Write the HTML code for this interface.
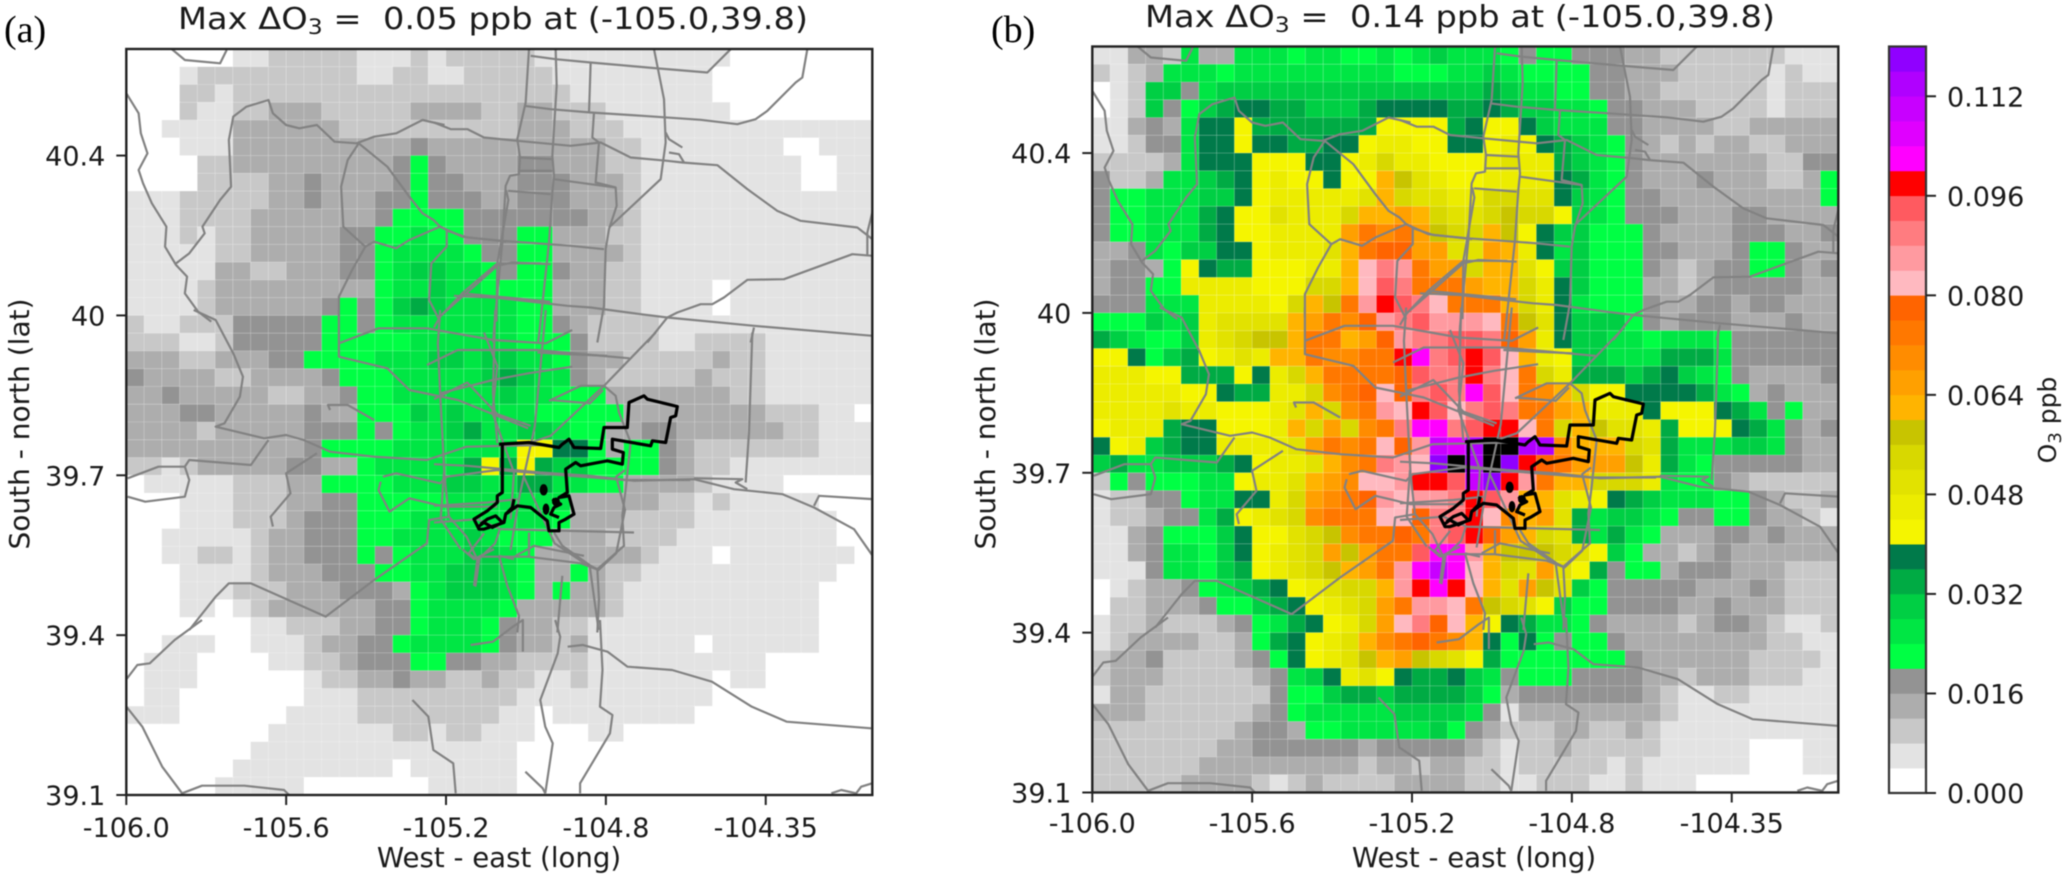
<!DOCTYPE html>
<html lang="en">
<head>
<meta charset="utf-8">
<title>Max delta O3 maps</title>
<style>
html,body{margin:0;padding:0;background:#fff}
svg{display:block;filter:blur(0.4px)}
text{font-family:"DejaVu Sans","Liberation Sans",sans-serif;fill:#1a1a1a;white-space:pre}
.road polyline{fill:none;stroke:#828282;stroke-width:2.2;stroke-linejoin:round;vector-effect:non-scaling-stroke}
.city polyline{fill:none;stroke:#000;stroke-width:3.2;stroke-linejoin:round;vector-effect:non-scaling-stroke}
</style>
</head>
<body>
<svg id="chart" xmlns="http://www.w3.org/2000/svg" width="2067" height="878" viewBox="0 0 2067 878">
<defs>
<clipPath id="panel-clip"><rect x="0" y="0" width="746" height="746"/></clipPath>
<g id="map-overlay">
<g class="road" transform="translate(-126.3,-49) scale(.44014,.33333)">
<polyline points="287,280 315,340 320,400 335,460 315,510 325,550 345,610 378,680 375,740 400,795 425,830 420,880 450,935 480,965"/>
<polyline points="400,790 430,760 465,700 460,680 500,600 525,560 520,420 530,350 560,320 610,300 620,340 650,375 680,385 720,375 760,425 810,430 850,410 900,400 960,360 1010,375"/>
<polyline points="815,430 790,480 775,560 780,680 830,740 800,810 770,890 770,960"/>
<polyline points="815,430 880,500 930,590 960,640 985,660 1000,680 930,720 900,745 850,725 830,740"/>
<polyline points="1000,680 1015,690 1015,740 980,790 975,900 1000,965"/>
<polyline points="1000,680 1050,710 1150,725"/>
<polyline points="1000,950 1050,880 1130,790 1230,790"/>
<polyline points="1050,880 1250,905"/>
<polyline points="1130,790 1155,600 1150,570"/>
<polyline points="1130,790 1128,965"/>
<polyline points="390,147 420,180 500,190 515,150"/>
</g>
<g class="road" transform="translate(-126.3,261) scale(.44014,.33333)">
<polyline points="440,0 490,30 530,130 552,200 545,260 510,340 490,350 600,385 650,375 690,390 750,425 850,440 970,450 1060,410 1240,405"/>
<polyline points="770,100 860,55 970,55 1120,90 1240,100 1300,60"/>
<polyline points="770,0 770,140 880,175 930,240 1040,270 1200,355"/>
<polyline points="1000,0 995,100 1000,250 1010,500 1020,620"/>
<polyline points="970,165 1040,120 1220,120 1430,145"/>
<polyline points="1130,400 1120,250 1125,0"/>
<polyline points="1240,0 1215,350 1180,560 1160,720"/>
<polyline points="290,505 360,470 420,470 430,450 570,465 610,390"/>
<polyline points="290,560 330,575 420,560 430,510 420,470"/>
<polyline points="870,500 900,490 1000,520 1015,500 1130,480 1420,510 1568,510"/>
<polyline points="750,300 745,285 790,285 850,330"/>
<polyline points="620,650 615,620 660,550 650,490 720,430"/>
<polyline points="865,515 860,540 885,605 930,565 1010,590 1040,590 1130,590"/>
<polyline points="1100,670 1065,730 1085,750 1125,700 1135,660"/>
<polyline points="1080,830 1090,740 1200,740 1320,760 1360,780 1400,730 1420,600 1400,500 1420,480"/>
<polyline points="850,810 970,700 975,630 1020,620 1060,680 1085,750"/>
<polyline points="1190,500 1260,700 1340,770 1360,960"/>
<polyline points="430,960 490,860 520,820 570,820 740,920 850,810"/>
<polyline points="1000,250 1060,230 1120,210 1200,190 1300,170"/>
<polyline points="1250,270 1340,280 1370,240"/>
</g>
<g class="road" transform="translate(-26.3,571) scale(.4975,.33333)">
<polyline points="205,0 150,60 100,130 75,135 52,180"/>
<polyline points="52,258 85,320 125,440 165,520 205,497 290,497 370,510 380,525"/>
<polyline points="628,240 660,290 670,390 710,430 715,520"/>
<polyline points="745,75 790,65 830,20 850,0 850,95"/>
<polyline points="915,0 925,50 920,100 885,240 895,320 910,370 895,520"/>
<polyline points="855,455 890,505 895,520"/>
<polyline points="1005,0 1010,150 1005,260 1030,285 1025,340 965,490 965,520"/>
<polyline points="940,80 970,75 1020,95 1060,140 1150,150 1230,185 1310,260 1380,305 1550,325"/>
<polyline points="1470,520 1490,510 1520,520 1530,500 1552,490"/>
</g>
<g class="road" transform="translate(307.7,-6.5) scale(.33333)">
<polyline points="285,20 275,180 250,290 258,345 255,395 228,400 215,430 205,600 180,860 178,900"/>
<polyline points="365,20 368,130 355,340 360,400 355,450 345,600 315,880 312,900"/>
<polyline points="270,190 350,200 470,210 625,220 800,232 910,245 965,230 1000,205 1085,120 1105,105 1120,20"/>
<polyline points="290,40 365,50 470,60 640,75 820,90 890,20"/>
<polyline points="470,60 465,210"/>
<polyline points="480,210 475,285 495,300 485,420 545,435 548,490 525,560 515,620 510,790 490,900"/>
<polyline points="0,240 50,260 100,260 150,285 250,295 410,310 500,300 540,320 590,345 700,355 745,360 850,368 940,440 1030,505 1100,535 1270,555 1315,590"/>
<polyline points="660,20 690,170 695,300 680,410 525,555"/>
<polyline points="695,270 705,290 745,315"/>
<polyline points="705,330 735,335 750,360"/>
<polyline points="222,445 350,455"/>
<polyline points="258,345 355,350"/>
<polyline points="255,385 355,385"/>
<polyline points="360,410 470,425 545,435"/>
<polyline points="40,565 100,585 205,595 345,605 410,610 510,620"/>
<polyline points="0,855 20,820 190,670 235,660 350,665"/>
<polyline points="60,760 180,765 400,790 470,795 620,815 700,825 960,850 1316,880"/>
<polyline points="640,900 700,825 730,810 800,785 835,785 870,765 940,712 1050,710 1255,635 1316,640"/>
<polyline points="1316,505 1300,570 1300,640"/>
<polyline points="960,855 950,900"/>
</g>
<g class="road" transform="translate(307.7,283.5) scale(.33333)">
<polyline points="955,0 945,300 935,450"/>
<polyline points="665,0 510,160 350,310 290,330 270,330"/>
<polyline points="510,160 545,190 555,240 590,330 575,470 565,550 570,640 490,710"/>
<polyline points="310,60 400,65 520,70"/>
<polyline points="320,420 470,430 600,445 780,440 900,470 1045,485 1140,525 1260,590 1316,670"/>
<polyline points="780,437 925,440 905,450 940,470"/>
<polyline points="1140,520 1155,490 1316,500"/>
<polyline points="360,600 385,640 470,700 490,710 495,800 490,900"/>
<polyline points="245,670 300,640 450,670"/>
<polyline points="285,600 285,670"/>
<polyline points="195,670 240,680"/>
<polyline points="195,670 220,760 255,850 250,900"/>
<polyline points="130,680 120,760"/>
<polyline points="85,650 120,680 180,650"/>
<polyline points="385,730 370,900"/>
<polyline points="150,0 190,100 175,240 240,420 230,560"/>
<polyline points="0,200 100,150 190,245 290,280"/>
<polyline points="0,395 100,400 320,420"/>
<polyline points="0,520 160,510 250,500"/>
<polyline points="0,570 130,560 200,590 600,600"/>
<polyline points="345,205 440,160 510,160"/>
<polyline points="30,420 20,560 80,650"/>
</g>
<g class="city" transform="translate(307.7,283.5) scale(.33333)">
<polyline points="195,335 285,330 375,345 385,335 405,320 420,345 500,348 510,285 580,285 585,210 630,190 640,200 730,222 725,250 710,255 695,330 655,325 650,340 535,320 535,350 568,360 565,395 520,385 440,400 425,390 395,410 400,480 375,495 405,490 420,545 395,560 375,570 375,595 345,595 340,565 290,525 250,520 215,545 210,570 150,590 135,590 120,560 160,535 190,510 190,490 205,480 205,335 195,335"/>
<polyline points="240,500 235,525 215,545"/>
<polyline points="130,585 150,570 175,585 205,570 185,550 160,560 140,575"/>
<polyline points="355,500 380,515 360,525 350,545 375,555"/>
<ellipse cx="329" cy="472" rx="12" ry="17" fill="#000"/>
<ellipse cx="366" cy="508" rx="12" ry="13" fill="#000"/>
<ellipse cx="336" cy="530" rx="10" ry="17" fill="#000"/>
</g>
</g>
</defs>

<text x="4" y="42" style="font-family:'Liberation Serif',serif;font-size:38px;fill:#000">(a)</text>
<text x="991" y="42" style="font-family:'Liberation Serif',serif;font-size:38px;fill:#000">(b)</text>

<g id="panel-a" transform="translate(126.3,49)"></g>
<g id="panel-b" transform="translate(1092.3,46.5)"></g>
<g id="colorbar"></g>

<text x="178" y="29" font-size="30" textLength="630" lengthAdjust="spacingAndGlyphs">Max ΔO<tspan font-size="21" dy="5">3</tspan><tspan dy="-5"> =  0.05 ppb at (-105.0,39.8)</tspan></text>
<text x="1145" y="27" font-size="30" textLength="630" lengthAdjust="spacingAndGlyphs">Max ΔO<tspan font-size="21" dy="5">3</tspan><tspan dy="-5"> =  0.14 ppb at (-105.0,39.8)</tspan></text>
<text x="499" y="867" font-size="27.6" text-anchor="middle">West - east (long)</text>
<text x="1474" y="867" font-size="27.6" text-anchor="middle">West - east (long)</text>
<text transform="translate(29,424) rotate(-90)" font-size="28" text-anchor="middle">South - north (lat)</text>
<text transform="translate(995,424) rotate(-90)" font-size="28" text-anchor="middle">South - north (lat)</text>
<text transform="translate(2056,420) rotate(-90)" font-size="25" text-anchor="middle">O<tspan font-size="18" dy="5">3</tspan><tspan dy="-5"> ppb</tspan></text>

<script>
const xTickLabels = ["-106.0","-105.6","-105.2","-104.8","-104.35"];
const xTickCells = [0,9,18,27,36];
const yTickLabels = ["40.4","40","39.7","39.4","39.1"];
const yTickCells = [6,15,24,33,42];
const colorbarTickLabels = ["0.000","0.016","0.032","0.048","0.064","0.080","0.096","0.112"];
const colorbarTickValues = [0,0.016,0.032,0.048,0.064,0.08,0.096,0.112];
const levelColors = ["#ffffff","#e3e3e3","#c8c8c8","#adadad","#939393","#00ff44","#00e644","#00cf44","#00ab44","#007a4a","#f5f500","#ecec00","#e2e200","#d8d800","#c8c400","#ffb400","#ffa000","#ff8c00","#ff7800","#ff6400","#ffb9c0","#ff9aa0","#ff7c80","#ff5a60","#ff0000","#ff00ff","#e000ff","#c800ff","#b000ff","#9000ff","#000000"];
const levelStep = 0.004;
const panelALevels = [
[0,0,0,0,0,0,1,1,2,2,2,2,2,1,1,1,2,1,2,2,2,2,2,1,1,1,1,1,1,1,1,1,1,1,0,0,0,0,0,0,0,0],
[0,0,0,1,2,2,2,2,2,2,2,2,2,1,1,2,2,1,1,2,2,2,2,2,1,1,1,1,1,1,1,1,1,0,0,0,0,0,0,0,0,0],
[0,0,0,2,2,1,2,2,2,2,2,2,2,2,2,2,2,2,2,2,2,2,2,2,2,1,1,1,1,1,1,1,1,0,0,0,0,0,0,0,0,0],
[0,0,0,2,1,1,2,2,3,3,3,2,2,2,2,2,3,3,3,3,2,2,3,3,2,2,2,1,1,1,1,1,1,1,0,0,0,0,0,0,0,0],
[0,0,1,1,1,1,3,3,3,3,3,3,2,2,2,2,2,2,2,2,2,2,3,3,3,2,2,2,1,1,1,1,1,1,1,1,1,1,1,1,1,1],
[0,0,0,1,1,1,3,3,3,3,3,3,3,3,3,3,4,3,3,3,3,3,3,3,3,3,3,2,2,1,1,1,1,1,1,1,1,0,0,1,1,1],
[0,0,0,0,2,2,3,3,3,3,3,3,3,3,3,4,5,4,3,3,3,3,4,4,3,3,3,2,2,1,1,1,1,1,1,1,1,1,0,0,1,1],
[0,0,0,0,2,2,2,2,3,3,4,3,3,3,3,4,5,4,4,3,3,3,4,4,4,3,3,3,2,1,1,1,1,1,1,1,1,1,0,0,1,1],
[1,1,1,2,2,2,2,2,3,3,4,3,3,3,4,4,5,4,4,4,3,3,4,4,4,3,3,3,2,1,1,1,1,1,1,1,1,1,1,1,1,1],
[1,1,1,2,2,2,2,3,3,3,3,3,3,3,4,5,5,5,5,4,4,4,4,4,4,4,3,3,2,1,1,1,1,1,1,1,1,1,1,1,1,1],
[1,1,1,2,1,2,2,3,3,3,3,3,4,4,5,5,6,5,5,4,4,4,5,5,3,3,3,2,2,1,1,1,1,1,1,1,1,1,1,1,1,1],
[1,1,1,1,1,2,2,3,3,3,3,3,4,4,5,6,6,6,6,5,4,4,5,5,3,3,3,3,2,1,1,1,1,1,1,1,1,1,1,1,1,1],
[1,1,1,1,1,3,3,2,2,3,3,3,4,4,5,6,7,7,6,6,5,4,5,5,4,3,3,2,2,1,1,1,1,1,1,1,1,1,1,1,1,1],
[1,1,1,1,2,3,3,3,3,3,3,3,3,3,5,6,6,7,6,6,5,5,5,5,3,3,3,2,2,1,1,1,1,0,1,1,1,1,1,1,1,1],
[1,1,1,1,2,3,3,3,3,3,3,4,5,4,5,7,8,7,6,6,6,6,5,5,3,3,3,2,2,1,1,1,1,0,1,1,1,1,1,1,1,1],
[2,1,1,2,2,2,4,4,4,4,4,5,5,4,5,6,6,6,6,6,6,6,5,5,4,3,2,2,2,2,1,1,1,1,1,1,1,1,1,1,1,1],
[2,2,2,1,1,2,4,4,4,4,4,5,5,5,5,5,6,6,6,6,6,6,5,5,5,4,2,2,2,2,1,1,2,2,2,2,1,1,1,1,1,1],
[3,3,3,2,2,3,3,3,4,4,5,5,5,5,6,6,6,7,7,6,7,7,6,6,5,4,3,3,2,2,2,2,2,3,2,2,1,1,1,1,1,1],
[4,3,3,3,3,2,2,3,3,3,3,4,5,5,5,6,6,6,6,6,7,8,7,6,6,4,3,2,2,2,2,2,3,2,2,2,1,1,1,1,1,1],
[3,3,4,3,3,3,3,3,2,2,3,3,4,5,5,6,6,6,6,6,6,7,6,6,5,5,5,3,3,3,3,3,3,3,2,2,1,1,1,1,1,1],
[3,3,3,4,4,3,3,3,3,3,4,3,3,5,5,5,7,6,7,6,6,6,6,5,5,5,5,5,3,3,3,3,3,3,3,3,2,2,2,1,1,0],
[3,3,3,3,2,3,3,3,3,3,4,4,4,5,4,5,6,6,7,8,6,6,7,7,6,5,5,3,3,4,4,3,3,3,3,3,3,2,2,1,1,1],
[3,3,3,3,3,3,3,3,3,3,4,5,5,5,5,6,6,6,6,6,6,6,10,10,9,9,5,3,5,5,4,3,2,2,2,2,2,2,2,1,1,1],
[2,2,1,2,3,3,3,3,3,4,4,3,3,5,6,6,6,6,6,8,10,8,10,8,7,7,5,5,5,5,4,3,2,2,1,1,1,1,1,1,1,1],
[0,1,1,1,1,1,2,2,2,3,3,5,5,5,5,6,6,6,7,7,6,6,8,8,6,6,5,5,3,3,3,3,2,1,1,1,1,0,0,0,0,0],
[0,0,0,1,1,1,2,2,2,3,3,4,4,5,5,5,5,5,6,6,6,6,6,6,6,3,3,3,3,3,2,2,1,2,1,1,1,1,1,0,0,0],
[0,0,0,1,1,1,2,2,2,3,4,4,4,5,5,5,6,6,6,6,6,6,6,6,5,3,3,3,2,2,2,2,1,1,1,1,1,1,1,1,0,0],
[0,0,1,1,1,1,1,2,3,3,4,4,4,5,5,6,6,6,6,7,6,5,5,5,3,3,3,2,2,2,2,1,1,1,1,1,1,1,1,1,0,0],
[0,0,1,1,2,2,1,2,3,3,4,4,4,5,4,5,6,6,6,7,7,6,5,3,3,3,3,3,3,2,1,1,1,0,1,1,1,1,1,1,1,0],
[0,0,0,1,1,1,1,2,3,3,3,4,4,4,5,5,6,6,7,7,7,6,5,3,3,5,3,2,2,1,1,1,1,1,1,1,1,1,1,1,0,0],
[0,0,0,1,1,1,2,2,2,3,3,3,4,4,4,3,5,6,7,7,7,6,5,3,5,3,3,2,1,1,1,1,1,1,1,1,1,1,1,0,0,0],
[0,0,0,1,1,0,1,2,3,3,3,3,3,3,4,4,5,6,6,6,6,5,3,3,3,3,3,2,1,1,1,1,1,1,1,1,1,1,1,0,0,0],
[0,0,0,0,0,0,0,1,1,2,2,2,3,3,4,4,5,6,6,6,5,4,3,3,2,2,1,1,1,1,1,1,1,1,1,1,1,1,1,0,0,0],
[0,0,1,1,1,0,0,1,1,1,2,3,3,4,4,5,6,6,6,6,5,4,3,3,2,3,1,1,1,1,1,1,0,1,1,1,1,1,1,0,0,0],
[0,1,1,1,0,0,0,0,1,1,2,2,3,4,4,4,5,5,4,4,3,3,2,2,2,2,1,1,1,1,1,1,1,1,1,1,0,0,0,0,0,0],
[0,1,1,1,0,0,0,0,0,0,1,2,2,3,3,4,3,3,2,2,3,2,2,1,1,2,1,1,1,1,1,1,1,0,1,1,0,0,0,0,0,0],
[0,1,1,0,0,0,0,0,0,0,1,1,1,2,2,2,2,2,2,2,2,2,1,1,1,1,1,1,1,1,1,1,1,0,0,0,0,0,0,0,0,0],
[1,1,1,0,0,0,0,0,0,1,1,1,1,2,2,2,2,2,2,2,2,1,1,0,1,1,1,1,1,1,1,1,0,0,0,0,0,0,0,0,0,0],
[0,0,0,0,0,0,0,0,1,1,1,1,1,1,1,2,2,1,2,2,1,1,1,0,0,0,1,1,0,0,0,0,0,0,0,0,0,0,0,0,0,0],
[0,0,0,0,0,0,0,1,1,1,1,1,1,1,1,1,1,1,1,1,1,1,0,0,0,0,0,0,0,0,0,0,0,0,0,0,0,0,0,0,0,0],
[0,0,0,0,0,0,1,1,1,1,1,1,1,1,1,0,1,1,1,1,1,1,0,0,0,0,0,0,0,0,0,0,0,0,0,0,0,0,0,0,0,0],
[0,0,0,0,0,1,1,1,1,1,0,0,0,0,0,0,0,1,1,1,1,1,0,0,0,0,0,0,0,0,0,0,0,0,0,0,0,0,0,0,0,0]
];
const panelBLevels = [
[1,1,3,3,2,6,3,3,6,6,6,5,6,6,5,5,6,5,6,7,6,6,6,5,4,5,5,4,4,4,3,3,2,2,2,2,2,2,2,1,1,1],
[2,1,2,3,6,6,6,5,6,6,6,6,6,6,6,6,6,5,5,5,6,6,7,6,5,5,5,5,4,4,3,3,3,2,2,2,2,2,1,2,1,1],
[0,1,2,7,7,4,6,7,7,7,7,7,7,7,7,7,7,7,7,7,7,7,8,7,6,6,5,5,4,4,3,3,2,2,2,2,2,2,1,2,2,2],
[0,1,2,7,4,5,7,8,9,9,8,8,7,7,7,8,9,9,9,9,8,8,9,8,7,7,6,6,5,4,4,3,3,3,2,2,2,2,1,2,2,2],
[1,1,3,4,3,6,9,9,10,8,8,8,8,8,8,8,10,10,10,10,8,9,10,10,9,7,6,6,6,4,4,3,3,3,3,2,2,3,3,3,3,3],
[1,1,2,4,4,6,9,9,10,9,9,8,8,9,9,10,11,11,10,10,9,9,10,11,10,9,8,7,6,5,4,3,2,3,2,3,3,2,2,3,3,3],
[2,2,2,2,3,6,9,9,9,10,10,10,9,9,10,11,13,11,11,10,10,10,11,12,11,11,8,7,6,5,4,3,3,3,3,3,3,3,2,2,4,4],
[4,2,2,3,6,6,7,8,9,10,11,10,10,9,10,10,15,14,12,11,10,10,11,11,11,11,9,8,6,5,4,3,3,3,4,3,3,3,2,2,3,5],
[4,5,5,6,6,6,7,7,9,10,11,11,11,11,11,12,15,13,12,12,11,11,13,13,12,12,9,7,6,5,4,4,3,3,3,3,3,3,3,3,3,5],
[4,5,5,6,6,6,8,9,10,10,12,11,11,11,13,15,15,16,15,13,12,12,13,14,13,13,10,7,6,5,4,4,4,3,3,3,4,4,3,3,3,3],
[4,5,5,6,6,6,8,9,10,10,11,11,11,11,16,18,17,18,16,14,13,13,15,14,10,9,7,7,5,5,5,4,3,3,3,3,4,4,4,3,3,4],
[3,3,4,6,5,7,7,9,9,10,11,11,11,12,15,18,19,19,16,16,12,12,16,15,11,9,6,7,5,5,5,4,4,3,3,3,4,5,5,4,3,3],
[3,4,4,3,5,10,9,8,8,10,10,10,11,11,15,20,22,21,18,16,16,13,15,15,12,10,7,7,5,5,5,4,3,2,3,4,4,5,5,4,3,4],
[3,4,4,5,5,11,11,11,11,10,10,10,13,13,15,20,23,22,18,18,18,16,15,15,13,11,9,7,5,5,5,3,3,2,3,4,4,4,4,4,3,3],
[4,4,4,6,6,6,11,11,11,11,10,13,15,14,18,21,24,23,22,20,18,18,18,15,13,11,9,6,5,5,5,4,3,3,4,4,3,4,4,3,3,3],
[5,5,5,7,6,7,11,12,12,12,12,15,16,18,17,19,21,22,23,21,21,21,20,18,14,12,9,7,7,7,5,4,3,4,4,4,3,3,3,4,3,3],
[8,7,6,5,5,7,11,12,13,14,14,15,18,18,15,16,19,21,22,22,23,23,22,19,16,11,9,7,7,6,6,5,6,6,6,5,4,4,4,4,4,4],
[10,10,9,5,7,8,10,11,12,11,15,15,18,17,17,18,18,24,25,22,23,24,23,20,15,11,10,7,7,6,6,6,8,8,8,6,4,4,4,4,4,4],
[11,11,11,10,10,8,8,8,10,9,11,13,15,18,18,18,18,19,23,22,22,24,22,20,18,13,11,8,8,8,7,8,9,7,6,5,4,3,3,3,3,4],
[11,11,11,11,11,10,10,9,8,8,11,11,13,17,18,19,20,19,22,23,22,25,23,20,18,17,15,13,10,10,9,9,9,9,8,6,5,3,4,3,3,3],
[11,11,11,11,12,11,11,10,10,10,11,12,15,13,17,18,21,20,24,23,20,22,23,22,18,18,16,15,11,11,11,9,10,10,10,9,8,6,4,5,3,3],
[10,11,11,11,8,9,9,10,10,10,11,15,13,16,13,17,18,22,25,25,22,23,24,24,20,18,13,15,14,12,12,11,8,10,10,10,9,8,6,4,3,4],
[9,10,11,7,8,9,9,11,11,11,11,12,16,18,17,18,20,19,21,27,26,28,30,30,28,28,17,15,15,15,13,12,8,6,6,6,7,7,6,4,3,3],
[7,8,6,6,7,7,7,8,9,10,11,11,12,15,17,18,22,21,20,29,30,28,30,29,24,19,18,16,16,16,14,11,8,6,5,4,4,4,4,4,3,3],
[2,5,4,5,5,5,6,6,10,11,11,12,15,16,17,20,20,21,24,24,23,27,29,24,21,18,15,15,13,13,13,11,6,5,5,4,3,2,2,2,2,2],
[1,2,2,4,4,5,6,6,9,9,11,13,16,17,18,19,21,20,21,21,22,24,23,21,15,15,12,11,10,9,8,7,6,6,6,5,5,4,3,2,2,3],
[1,2,2,3,4,4,6,8,10,11,12,13,17,18,18,18,20,20,19,22,22,24,20,17,15,16,12,8,6,7,7,6,5,4,4,5,5,4,3,3,2,1],
[1,1,3,4,5,5,5,7,9,10,10,12,13,14,17,18,18,19,18,22,23,24,19,16,15,13,12,8,6,8,6,5,3,3,3,4,4,3,4,3,3,3],
[1,1,3,4,6,6,5,7,9,10,11,12,13,16,14,16,18,18,23,25,25,21,15,14,14,14,13,12,10,7,5,3,3,2,3,4,3,3,3,3,3,3],
[1,1,1,4,6,6,5,7,8,10,11,12,13,14,15,16,18,21,25,27,25,20,15,13,12,16,12,10,8,4,5,5,3,4,4,4,3,3,3,2,2,2],
[0,1,2,3,3,4,5,6,7,8,9,10,11,12,13,13,15,21,24,25,24,20,15,12,16,14,12,7,5,4,4,4,4,4,3,3,3,4,3,2,2,2],
[0,2,2,3,3,3,4,5,5,7,8,9,10,11,12,13,16,18,21,21,20,18,14,13,12,10,7,5,5,4,4,4,4,3,3,4,3,3,3,2,2,2],
[1,2,2,3,2,2,2,3,4,5,6,8,9,10,11,13,16,20,22,19,20,15,10,9,8,6,6,5,4,3,3,3,3,2,3,4,4,3,2,1,1,2],
[1,2,3,3,3,3,2,2,3,5,8,9,10,11,12,15,17,18,19,18,17,15,9,5,9,5,4,5,5,4,3,3,3,3,3,3,3,3,2,2,1,1],
[2,3,3,4,2,2,2,2,3,4,5,9,10,11,12,14,15,16,14,13,12,10,8,5,5,5,5,5,5,5,4,3,3,3,3,3,3,2,2,2,2,1],
[2,3,3,3,2,2,2,2,2,3,4,6,7,9,11,12,10,9,8,8,9,7,6,4,5,5,5,4,4,4,4,3,3,2,3,3,3,2,2,2,1,1],
[1,3,3,2,2,2,2,2,2,2,4,5,5,7,8,8,7,8,8,8,8,7,5,3,4,4,4,4,4,4,4,3,2,1,1,2,2,1,1,1,1,1],
[3,3,3,2,2,2,2,2,2,3,4,5,6,6,6,6,6,7,7,7,7,6,4,1,3,3,3,3,3,3,3,3,2,1,1,1,1,1,1,1,1,1],
[2,2,2,2,2,2,2,2,3,4,4,3,5,5,6,6,6,6,6,7,5,4,3,2,2,2,3,3,2,2,3,2,1,1,1,1,1,1,1,1,1,1],
[2,2,2,2,2,2,2,3,3,4,4,4,4,4,4,3,4,4,4,4,4,3,2,1,2,2,3,2,2,2,2,2,1,1,1,1,1,0,0,0,1,1],
[2,2,2,2,2,2,3,3,3,3,3,3,3,3,3,2,3,3,2,3,3,2,2,1,2,2,2,2,2,1,2,1,1,1,1,1,1,0,0,0,1,1],
[2,2,2,2,2,3,3,3,3,2,1,2,3,2,2,2,2,3,3,3,3,2,2,1,1,2,2,2,1,1,2,1,1,1,0,0,0,0,0,0,0,0]
];

const SVG_NS = "http://www.w3.org/2000/svg";
const PANEL_SIZE = 746;
const GRID_SIZE = 42;
function cellX(col){ return col * PANEL_SIZE / GRID_SIZE; }
function cellY(row){ return row * PANEL_SIZE / GRID_SIZE; }
function levelColor(level){ return levelColors[Math.max(0, Math.min(levelColors.length - 1, Math.floor(level)))]; }
function svgEl(tag, attrs, parent){
  const el = document.createElementNS(SVG_NS, tag);
  Object.keys(attrs).forEach(function(k){ el.setAttribute(k, attrs[k]); });
  parent.appendChild(el);
  return el;
}
function drawPanel(groupId, levels, labelShift){
  const g = document.getElementById(groupId);
  const clipped = svgEl("g", {"clip-path":"url(#panel-clip)"}, g);
  levels.forEach(function(row, r){
    row.forEach(function(v, c){
      const cell = svgEl("rect", {x:cellX(c), y:cellY(r), width:PANEL_SIZE/GRID_SIZE, height:PANEL_SIZE/GRID_SIZE, fill:levelColor(v), stroke:"rgba(255,255,255,0.16)", "stroke-width":"0.8"}, clipped);
      
      
    });
  });
  const overlay = svgEl("use", {href:"#map-overlay"}, clipped);
  
  
  const frame = svgEl("rect", {x:0, y:0, width:PANEL_SIZE, height:PANEL_SIZE, fill:"none", stroke:"#222", "stroke-width":"2.4"}, g);
  
  
  xTickCells.forEach(function(cellIndex, i){
    const x = cellX(cellIndex);
    const tick = svgEl("line", {x1:x, x2:x, y1:PANEL_SIZE, y2:PANEL_SIZE + 10, stroke:"#222", "stroke-width":"2"}, g);
    
    
    const label = svgEl("text", {x:x, y:PANEL_SIZE + 42 - labelShift, "font-size":"27", "text-anchor":"middle"}, g);
    label.textContent = xTickLabels[i];
    
    
  });
  yTickCells.forEach(function(cellIndex, i){
    const y = cellY(cellIndex);
    const tick = svgEl("line", {x1:-10, x2:0, y1:y, y2:y, stroke:"#222", "stroke-width":"2"}, g);
    
    
    const label = svgEl("text", {x:-21, y:y + 10, "font-size":"27", "text-anchor":"end"}, g);
    label.textContent = yTickLabels[i];
    
    
  });
}
const CB_LEFT = 1889, CB_WIDTH = 37, CB_TOP = 46.5, CB_BOTTOM = 793;
const CB_MAX = 0.12;
function colorbarY(v){ return CB_BOTTOM - (v / CB_MAX) * (CB_BOTTOM - CB_TOP); }
function drawColorbar(){
  const g = document.getElementById("colorbar");
  for (let k = 0; k < 30; k++){
    const top = colorbarY((k + 1) * levelStep);
    const swatch = svgEl("rect", {x:CB_LEFT, y:top, width:CB_WIDTH, height:colorbarY(k * levelStep) - top + 0.3, fill:levelColors[k]}, g);
    
    
  }
  const frame = svgEl("rect", {x:CB_LEFT, y:CB_TOP, width:CB_WIDTH, height:CB_BOTTOM - CB_TOP, fill:"none", stroke:"#333", "stroke-width":"2.2"}, g);
  
  
  colorbarTickValues.forEach(function(v, i){
    const y = colorbarY(v);
    const tick = svgEl("line", {x1:CB_LEFT + CB_WIDTH, x2:CB_LEFT + CB_WIDTH + 10, y1:y, y2:y, stroke:"#222", "stroke-width":"2"}, g);
    
    
    const label = svgEl("text", {x:1947, y:y + 10, "font-size":"27"}, g);
    label.textContent = colorbarTickLabels[i];
    
    
  });
}
drawPanel("panel-a", panelALevels, 0);
drawPanel("panel-b", panelBLevels, 2);
drawColorbar();
</script>
</svg>
</body>
</html>
